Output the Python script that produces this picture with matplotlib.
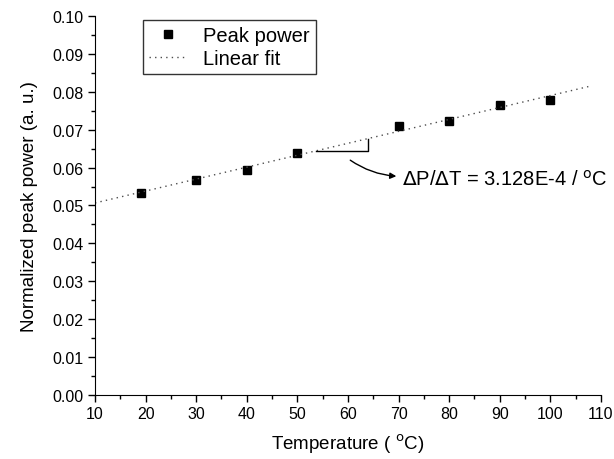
import numpy as np
import matplotlib
matplotlib.use("Agg")
import matplotlib.pyplot as plt
from matplotlib.ticker import MultipleLocator

plt.rcParams['font.family'] = ['Liberation Sans', 'DejaVu Sans']

# values
temperature = [19, 30, 40, 50, 70, 80, 90, 100]
peak_power = [0.0534, 0.0567, 0.0594, 0.0639, 0.0710, 0.0724, 0.0765, 0.0779]
fit_range = [10, 107.5]
slope_text = r'$\Delta$P/$\Delta$T = 3.128E-4 / $^{\rm o}$C'

slope, intercept = np.polyfit(temperature, peak_power, 1)
fit_x = np.array(fit_range)
fit_y = slope * fit_x + intercept

fig = plt.figure(figsize=(6.14, 4.60), dpi=100)
ax = fig.add_axes([0.1547, 0.1398, 0.9788 - 0.1547, 0.9624 - 0.1398])

ax.plot(temperature, peak_power, 's', color='black', ms=5.5, label='Peak power')
ax.plot(fit_x, fit_y, linestyle=(0, (1, 3)), color='0.3', lw=1.0, label='Linear fit')

# slope triangle
tx0, tx1 = 53.7, 63.9
ty0 = slope * tx0 + intercept
ty1 = slope * tx1 + intercept
ax.plot([tx0, tx1, tx1], [ty0, ty0, ty1], color='black', lw=1.0)

ax.annotate('', xy=(70.1, 0.0577), xytext=(60.0, 0.0624),
            arrowprops=dict(arrowstyle='-|>', color='black', lw=1.0,
                            connectionstyle='arc3,rad=0.15', mutation_scale=9))
ax.text(70.6, 0.0571, slope_text, fontsize=14.5, va='center', ha='left')

ax.set_xlim(10, 110)
ax.set_ylim(0.0, 0.10)
ax.xaxis.set_major_locator(MultipleLocator(10))
ax.xaxis.set_minor_locator(MultipleLocator(5))
ax.yaxis.set_major_locator(MultipleLocator(0.01))
ax.yaxis.set_minor_locator(MultipleLocator(0.005))
ax.yaxis.set_major_formatter(plt.FormatStrFormatter('%.2f'))
ax.tick_params(which='major', direction='out', length=5, width=1, labelsize=11.5)
ax.tick_params(which='minor', direction='out', length=3, width=1)
ax.spines['top'].set_visible(False)
ax.spines['right'].set_visible(False)

ax.set_xlabel('Temperature ( $^{\\rm o}$C)', fontsize=13.5, labelpad=7)
ax.set_ylabel('Normalized peak power (a. u.)', fontsize=13.5, labelpad=10)

leg = ax.legend(loc='upper left', bbox_to_anchor=(0.095, 0.99), borderaxespad=0,
                fontsize=14.5, frameon=True, fancybox=False, edgecolor='black',
                borderpad=0.3, handlelength=1.9, handletextpad=0.8, labelspacing=0.2)
leg.get_frame().set_linewidth(1.0)

fig.savefig('out.png', dpi=100)
